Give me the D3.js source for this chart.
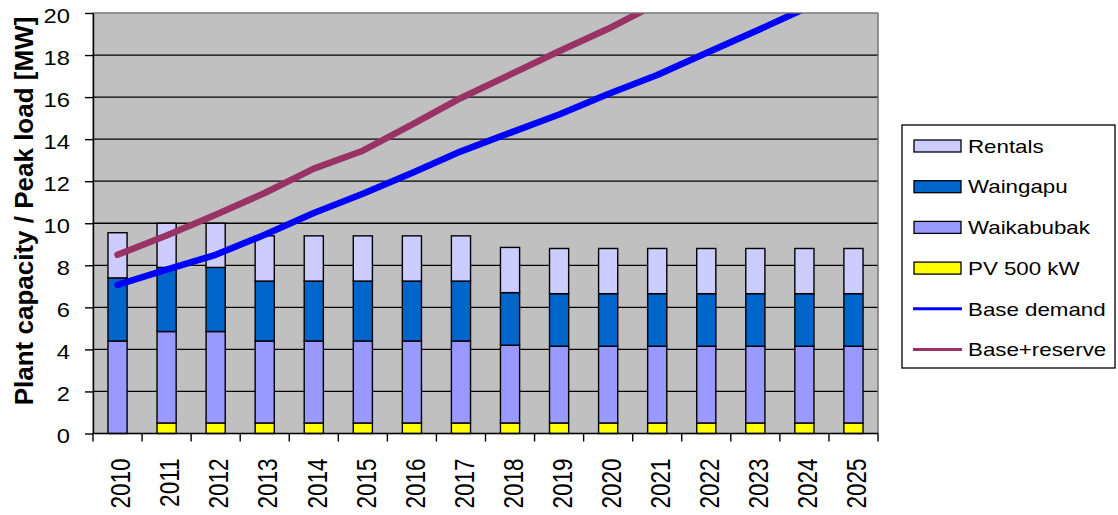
<!DOCTYPE html>
<html>
<head>
<meta charset="utf-8">
<script src="https://cdn.jsdelivr.net/npm/d3@7"></script>
<style>
  html, body { margin: 0; padding: 0; background: #ffffff; }
  svg { display: block; font-family: Arial, "Liberation Sans", sans-serif; }
</style>
</head>
<body>
<svg id="chart" width="1118" height="515"></svg>
<script>
// ---- data ----
const years = ["2010","2011","2012","2013","2014","2015","2016","2017","2018","2019","2020","2021","2022","2023","2024","2025"];
const pv500        = [0, 0.5, 0.5, 0.5, 0.5, 0.5, 0.5, 0.5, 0.5, 0.5, 0.5, 0.5, 0.5, 0.5, 0.5, 0.5];
const waikabubak   = [4.4, 4.35, 4.35, 3.9, 3.9, 3.9, 3.9, 3.9, 3.7, 3.65, 3.65, 3.65, 3.65, 3.65, 3.65, 3.65];
const waingapu     = [3.0, 3.05, 3.05, 2.85, 2.85, 2.85, 2.85, 2.85, 2.5, 2.5, 2.5, 2.5, 2.5, 2.5, 2.5, 2.5];
const rentals      = [2.15, 2.1, 2.1, 2.15, 2.15, 2.15, 2.15, 2.15, 2.15, 2.15, 2.15, 2.15, 2.15, 2.15, 2.15, 2.15];
const baseDemand   = [7.07, 7.79, 8.5, 9.45, 10.49, 11.4, 12.39, 13.42, 14.3, 15.17, 16.15, 17.05, 18.1, 19.13, 20.2, 21.2];
const baseReserve  = [8.5, 9.42, 10.4, 11.44, 12.6, 13.45, 14.69, 15.96, 17.07, 18.18, 19.25, 20.45, 21.6, 22.7, 23.9, 25.0];
const yTicks = [0, 2, 4, 6, 8, 10, 12, 14, 16, 18, 20];

const stackSeries = [
  { key: "pv",   name: "PV 500 kW",  values: pv500,      color: "#FFFF00" },
  { key: "waik", name: "Waikabubak", values: waikabubak, color: "#9999FF" },
  { key: "wain", name: "Waingapu",   values: waingapu,   color: "#0066CC" },
  { key: "rent", name: "Rentals",    values: rentals,    color: "#CCCCFF" }
];
const lineSeries = [
  { name: "Base demand",  values: baseDemand,  color: "#0000FF" },
  { name: "Base+reserve", values: baseReserve, color: "#993366" }
];

// ---- layout ----
const svg = d3.select("#chart");
const L = 93, R = 878, T = 13, B = 433.5;

const x = d3.scaleBand().domain(years).range([L, R]).paddingInner(0.61).paddingOuter(0.305);
const y = d3.scaleLinear().domain([0, 20]).range([B, T]);

// plot background
svg.append("rect").attr("x", L).attr("y", T).attr("width", R - L).attr("height", B - T)
  .attr("fill", "#C0C0C0").attr("stroke", "#808080").attr("stroke-width", 1.2);

// gridlines
svg.append("g").selectAll("line").data(yTicks.filter(d => d > 0 && d < 20)).join("line")
  .attr("x1", L).attr("x2", R).attr("y1", d => y(d)).attr("y2", d => y(d))
  .attr("stroke", "#000").attr("stroke-width", 1.3);

// stacked bars
const table = years.map((yr, i) => {
  const o = { year: yr };
  stackSeries.forEach(s => o[s.key] = s.values[i]);
  return o;
});
const stacked = d3.stack().keys(stackSeries.map(s => s.key))(table);
const gBars = svg.append("g");
stacked.forEach((layer, li) => {
  gBars.append("g").selectAll("rect").data(layer.filter(d => d[1] - d[0] > 0)).join("rect")
    .attr("x", d => x(d.data.year))
    .attr("width", x.bandwidth())
    .attr("y", d => y(d[1]))
    .attr("height", d => y(d[0]) - y(d[1]))
    .attr("fill", stackSeries[li].color)
    .attr("stroke", "#000").attr("stroke-width", 1.4);
});

// lines (clipped to plot area)
svg.append("clipPath").attr("id", "clip").append("rect")
  .attr("x", L).attr("y", T).attr("width", R - L).attr("height", B - T);
const line = d3.line().x((d, i) => x(years[i]) + x.bandwidth() / 2).y(d => y(d));
const gLines = svg.append("g").attr("clip-path", "url(#clip)");
lineSeries.forEach(s => {
  gLines.append("path").datum(s.values).attr("d", line)
    .attr("fill", "none").attr("stroke", s.color).attr("stroke-width", 6.5)
    .attr("stroke-linecap", "round").attr("stroke-linejoin", "round");
});

// top/right border redraw
svg.append("line").attr("x1", L).attr("x2", R).attr("y1", T).attr("y2", T).attr("stroke", "#808080").attr("stroke-width", 1.2);
svg.append("line").attr("x1", R).attr("x2", R).attr("y1", T).attr("y2", B).attr("stroke", "#808080").attr("stroke-width", 1.2);

// y axis
const yAxis = svg.append("g").attr("transform", `translate(${L},0)`)
  .call(d3.axisLeft(y).tickValues(yTicks).tickSize(8).tickPadding(8).tickSizeOuter(0));
yAxis.select(".domain").attr("stroke", "#000").attr("stroke-width", 1.4);
yAxis.selectAll(".tick line").attr("stroke", "#000").attr("stroke-width", 1.4);
yAxis.selectAll(".tick text")
  .attr("x", 0).attr("dy", "0.36em")
  .attr("transform", "translate(-23,1.5) scale(1.13,1)")
  .attr("font-size", 21).attr("fill", "#000")
  .attr("font-family", "Arial, 'Liberation Sans', sans-serif");

// x axis
const xAxisG = svg.append("g").attr("transform", `translate(0,${B})`);
xAxisG.append("line").attr("x1", L).attr("x2", R).attr("y1", 0).attr("y2", 0)
  .attr("stroke", "#000").attr("stroke-width", 1.4);
const step = x.step();
xAxisG.selectAll("line.tk").data(d3.range(years.length + 1)).join("line").attr("class", "tk")
  .attr("x1", i => L + i * step).attr("x2", i => L + i * step)
  .attr("y1", 0).attr("y2", 8).attr("stroke", "#000").attr("stroke-width", 1.4);
xAxisG.selectAll("text").data(years).join("text")
  .attr("transform", d => `translate(${x(d) + x.bandwidth() / 2 + 3},${25}) scale(1.2,1) rotate(-90)`)
  .attr("text-anchor", "end").attr("dy", "0.36em")
  .attr("font-size", 22.5).attr("fill", "#000")
  .text(d => d);

// y label
svg.append("text")
  .attr("transform", `translate(33,${211}) rotate(-90)`)
  .attr("text-anchor", "middle").attr("font-size", 26).attr("font-weight", "bold")
  .attr("fill", "#000")
  .text("Plant capacity / Peak load [MW]");

// legend
const lg = svg.append("g");
lg.append("rect").attr("x", 902).attr("y", 125).attr("width", 213).attr("height", 243)
  .attr("fill", "#fff").attr("stroke", "#000").attr("stroke-width", 1.3);
const legendItems = [
  { name: "Rentals",      type: "rect", color: "#CCCCFF" },
  { name: "Waingapu",     type: "rect", color: "#0066CC" },
  { name: "Waikabubak",   type: "rect", color: "#9999FF" },
  { name: "PV 500 kW",    type: "rect", color: "#FFFF00" },
  { name: "Base demand",  type: "line", color: "#0000FF" },
  { name: "Base+reserve", type: "line", color: "#993366" }
];
legendItems.forEach((it, i) => {
  const cy = 146 + i * 40.7;
  if (it.type === "rect") {
    lg.append("rect").attr("x", 914).attr("y", cy - 6).attr("width", 47).attr("height", 12)
      .attr("fill", it.color).attr("stroke", "#000").attr("stroke-width", 1.3);
  } else {
    lg.append("line").attr("x1", 913).attr("x2", 962).attr("y1", cy).attr("y2", cy)
      .attr("stroke", it.color).attr("stroke-width", 3);
  }
  lg.append("text").attr("transform", `translate(968,${cy}) scale(1.2,1)`).attr("dy", "0.36em")
    .attr("font-size", 18.6).attr("fill", "#000").text(it.name);
});
</script>
</body>
</html>
